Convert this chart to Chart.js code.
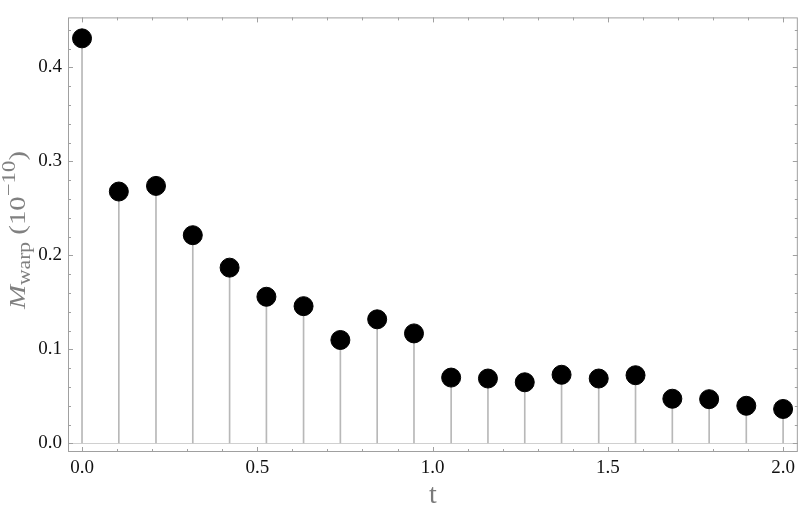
<!DOCTYPE html>
<html>
<head>
<meta charset="utf-8">
<script src="https://cdn.jsdelivr.net/npm/chart.js@4"></script>
<style>
  html, body { margin: 0; padding: 0; background: #fff; }
  #wrap { width: 800px; height: 515px; }
</style>
</head>
<body>
<div id="wrap"><canvas id="grafica"></canvas></div>
<script>
// datos
const tiempos = [0, 0.105, 0.211, 0.316, 0.421, 0.526, 0.632, 0.737, 0.842, 0.947,
                 1.053, 1.158, 1.263, 1.368, 1.474, 1.579, 1.684, 1.789, 1.895, 2.0];
const mWarp = [0.431, 0.268, 0.274, 0.2215, 0.187, 0.156, 0.146, 0.110, 0.132, 0.117,
               0.070, 0.069, 0.065, 0.073, 0.069, 0.0725, 0.0475, 0.047, 0.040, 0.0366];
const ticksX = [0, 0.5, 1.0, 1.5, 2.0];
const ticksY = [0, 0.1, 0.2, 0.3, 0.4];

const puntos = tiempos.map((t, i) => ({ x: t, y: mWarp[i] }));

const fuente = "'Liberation Serif', 'DejaVu Serif', serif";
const grisMarco = '#a0a0a0';

// marco completo con marcas hacia adentro + titulo del eje y con subindice
const marcoPlugin = {
  id: 'marco',
  afterDraw(chart) {
    const { ctx, chartArea: a, scales } = chart;
    ctx.save();
    ctx.strokeStyle = grisMarco;
    ctx.lineWidth = 1;
    ctx.strokeRect(a.left + 0.5, a.top + 0.5, a.right - a.left - 1, a.bottom - a.top - 1);

    ctx.beginPath();
    for (let v = 0; v <= 2.0001; v += 0.1) {
      const px = Math.round(scales.x.getPixelForValue(v)) + 0.5;
      const mayor = Math.abs(v * 2 - Math.round(v * 2)) < 1e-6;
      const largo = mayor ? 5 : 3;
      ctx.moveTo(px, a.bottom); ctx.lineTo(px, a.bottom - largo);
      ctx.moveTo(px, a.top); ctx.lineTo(px, a.top + largo);
    }
    for (let v = 0; v <= 0.4401; v += 0.02) {
      const py = Math.round(scales.y.getPixelForValue(v)) + 0.5;
      const mayor = Math.abs(v * 10 - Math.round(v * 10)) < 1e-6;
      const largo = mayor ? 5 : 3;
      ctx.moveTo(a.left, py); ctx.lineTo(a.left + largo, py);
      ctx.moveTo(a.right, py); ctx.lineTo(a.right - largo, py);
    }
    ctx.stroke();

    // titulo eje y: M_warp (10^-10)
    const yc = 230;
    ctx.translate(25, yc);
    ctx.rotate(-Math.PI / 2);
    ctx.scale(1.2, 1);
    ctx.fillStyle = '#808080';
    ctx.textBaseline = 'alphabetic';
    const piezas = [
      { txt: 'M', font: 'italic 24px ' + fuente, dy: 0 },
      { txt: 'warp', font: '18px ' + fuente, dy: 5 },
      { txt: ' (10', font: '24px ' + fuente, dy: 0 },
      { txt: '\u221210', font: '19px ' + fuente, dy: -10 },
      { txt: ')', font: '24px ' + fuente, dy: 0 }
    ];
    let total = 0;
    piezas.forEach(p => { ctx.font = p.font; total += ctx.measureText(p.txt).width; });
    let x = -total / 2;
    piezas.forEach(p => {
      ctx.font = p.font;
      ctx.fillText(p.txt, x, p.dy);
      x += ctx.measureText(p.txt).width;
    });
    ctx.restore();
  }
};

new Chart(document.getElementById('grafica'), {
  data: {
    datasets: [
      {
        type: 'scatter',
        data: puntos,
        pointRadius: 9.5,
        pointHoverRadius: 9.5,
        pointBackgroundColor: '#000',
        pointBorderColor: '#000',
        order: 0
      },
      {
        type: 'bar',
        data: puntos,
        backgroundColor: '#b8b8b8',
        barThickness: 1,
        order: 1
      }
    ]
  },
  options: {
    responsive: true,
    maintainAspectRatio: false,
    animation: false,
    layout: { autoPadding: false, padding: { top: 0, right: 1, left: 0, bottom: 0 } },
    plugins: { legend: { display: false }, tooltip: { enabled: false } },
    scales: {
      x: {
        type: 'linear',
        min: -0.04,
        max: 2.042,
        offset: false,
        afterFit: s => { s.height = 63; },
        afterBuildTicks: s => { s.ticks = ticksX.map(v => ({ value: v })); },
        ticks: {
          padding: 5,
          color: '#111',
          font: { family: fuente, size: 19 },
          callback: v => v.toFixed(1),
          maxRotation: 0
        },
        grid: { display: false, drawTicks: false },
        border: { display: false },
        title: {
          display: true,
          text: 't',
          color: '#7a7a7a',
          font: { family: fuente, size: 28 },
          padding: { top: 0, bottom: 3 }
        }
      },
      y: {
        min: -0.0092,
        max: 0.4533,
        afterFit: s => { s.width = 68; },
        afterBuildTicks: s => { s.ticks = ticksY.map(v => ({ value: v })); },
        ticks: {
          padding: 6,
          color: '#111',
          font: { family: fuente, size: 19 },
          callback: v => v.toFixed(1)
        },
        grid: {
          drawTicks: false,
          color: ctx => (ctx.tick && ctx.tick.value === 0 ? '#d0d0d0' : 'transparent')
        },
        border: { display: false }
      }
    }
  },
  plugins: [marcoPlugin]
});
</script>
</body>
</html>
